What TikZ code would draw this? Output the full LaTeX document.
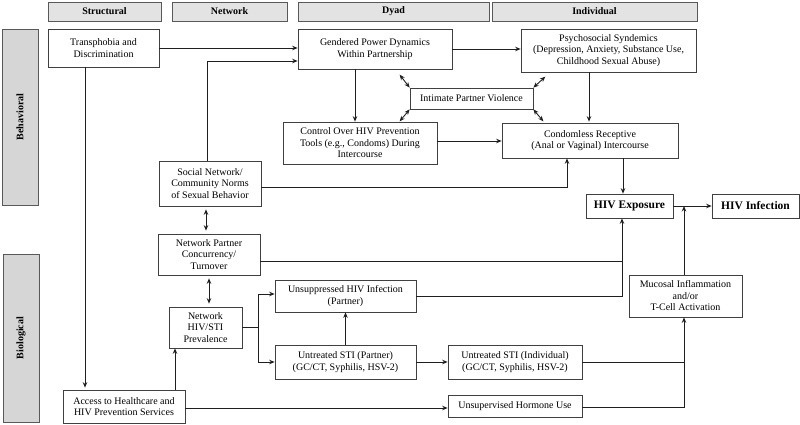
\documentclass[tikz,border=0pt]{standalone}
\usepackage{fontspec}
\setmainfont{Liberation Serif}
\usetikzlibrary{arrows.meta,calc}
\begin{document}
\begin{tikzpicture}[x=1pt,y=-1pt,
  every node/.style={inner sep=0pt, align=center},
  box/.style={draw=black!75, line width=0.7pt, fill=white, font=\fontsize{10}{11.5}\selectfont},
  bbox/.style={box, font=\bfseries\fontsize{11.5}{13}\selectfont},
  hdr/.style={draw=black!65, line width=0.6pt, fill=black!11, font=\bfseries\fontsize{10}{12}\selectfont, minimum height=19pt},
  side/.style={draw=black!65, line width=0.6pt, fill=black!16, font=\bfseries\fontsize{10}{12}\selectfont, rotate=90, minimum height=36pt},
  arr/.style={draw=black!88, line width=0.9pt, -{Stealth[length=5.5pt,width=4.5pt]}},
  darr/.style={draw=black!88, line width=0.9pt, {Stealth[length=5.5pt,width=4.5pt]}-{Stealth[length=5.5pt,width=4.5pt]}},
  ln/.style={draw=black!88, line width=0.9pt}
]
\useasboundingbox (0,0) rectangle (800,424);

% headers
\node[hdr, minimum width=113pt] (hS) at (104.5,11.5) {Structural};
\node[hdr, minimum width=115pt] (hN) at (229.5,11.5) {Network};
\node[hdr, minimum width=191pt] (hD) at (393.5,11.5) {Dyad};
\node[hdr, minimum width=205pt] (hI) at (594.5,11.5) {Individual};
% side labels
\node[side, minimum width=176pt] (sB) at (20,117) {Behavioral};
\node[side, minimum width=168pt] (sBio) at (21,338) {Biological};

% boxes
\node[box, minimum width=111pt, minimum height=38pt] (trans) at (103.5,48) {Transphobia and\\Discrimination};
\node[box, minimum width=154pt, minimum height=40pt] (gend) at (375,49) {Gendered Power Dynamics\\Within Partnership};
\node[box, minimum width=175pt, minimum height=43pt] (psy) at (608.5,50.5) {Psychosocial Syndemics\\(Depression, Anxiety, Substance Use,\\Childhood Sexual Abuse)};
\node[box, minimum width=123pt, minimum height=21pt] (ipv) at (471.5,98.5) {Intimate Partner Violence};
\node[box, minimum width=154pt, minimum height=42pt] (ctrl) at (360,143) {Control Over HIV Prevention\\Tools (e.g., Condoms) During\\Intercourse};
\node[box, minimum width=176pt, minimum height=35pt] (cond) at (590,140.5) {Condomless Receptive\\(Anal or Vaginal) Intercourse};
\node[box, minimum width=102pt, minimum height=45pt] (social) at (210,183.5) {Social Network/\\Community Norms\\of Sexual Behavior};
\node[bbox, minimum width=87pt, minimum height=24pt] (exp) at (629.5,206) {HIV Exposure};
\node[bbox, minimum width=87pt, minimum height=24pt] (inf) at (755.5,206) {HIV Infection};
\node[box, minimum width=102pt, minimum height=41pt] (npc) at (209,254.5) {Network Partner\\Concurrency/\\Turnover};
\node[box, minimum width=73pt, minimum height=41pt] (nhiv) at (205.5,327.5) {Network\\HIV/STI\\Prevalence};
\node[box, minimum width=141pt, minimum height=32pt] (unsup) at (345.5,296) {Unsuppressed HIV Infection\\(Partner)};
\node[box, minimum width=141pt, minimum height=34pt] (stiP) at (345.5,362) {Untreated STI (Partner)\\(GC/CT, Syphilis, HSV-2)};
\node[box, minimum width=134pt, minimum height=34pt] (stiI) at (515,362) {Untreated STI (Individual)\\(GC/CT, Syphilis, HSV-2)};
\node[box, minimum width=134pt, minimum height=22pt] (horm) at (515,406) {Unsupervised Hormone Use};
\node[box, minimum width=113pt, minimum height=42pt] (muc) at (685.5,296) {Mucosal Inflammation\\and/or\\T-Cell Activation};
\node[box, minimum width=122pt, minimum height=33pt] (acc) at (124,406.5) {Access to Healthcare and\\HIV Prevention Services};

% guide coordinates
\coordinate (x85) at (85,0);
\coordinate (x175) at (175,0);
\coordinate (x207) at (207,0);
\coordinate (x206) at (206,0);
\coordinate (x209) at (209,0);
\coordinate (x258) at (258,0);
\coordinate (x355) at (355,0);
\coordinate (x567) at (567,0);
\coordinate (x589) at (589,0);
\coordinate (x622) at (622,0);
\coordinate (x623) at (623,0);
\coordinate (x684) at (684,0);
\coordinate (socE) at ([yshift=-3.5pt]social.east);
\coordinate (npcE) at ([yshift=-6.5pt]npc.east);

% connectors
\draw[arr] (trans.east) -- (trans.east -| gend.west);
\draw[arr] (social.north -| x207) |- ([yshift=-12pt]gend.west);
\draw[arr] (gend.east) -- (gend.east -| psy.west);
\draw[arr] (gend.south -| x355) -- (ctrl.north -| x355);
\draw[darr] (ipv.north west) -- ([shift={(-10pt,13pt)}]ipv.north west);
\draw[darr] (ipv.south west) -- ([shift={(-10pt,-12pt)}]ipv.south west);
\draw[darr] (ipv.north east) -- ([shift={(12pt,11pt)}]ipv.north east);
\draw[darr] (ipv.south east) -- ([shift={(10pt,-12pt)}]ipv.south east);
\draw[arr] ([yshift=2pt]ctrl.east) -- ([yshift=2pt]ctrl.east -| cond.west);
\draw[arr] (psy.south -| x589) -- ([yshift=1pt]cond.north -| x589);
\draw[arr] (cond.south -| x623) -- (exp.north -| x623);
\draw[arr] (socE) -| (cond.south -| x567);
\draw[darr, shorten <=3pt, shorten >=3pt] (social.south -| x206) -- (npc.north -| x206);
\draw[arr] (npcE) -| (exp.south -| x622);
\draw[ln] (unsup.east) -| (npcE -| x622);
\draw[darr, shorten <=3pt, shorten >=3pt] (npc.south -| x209) -- (nhiv.north -| x209);
\draw[arr] (nhiv.east) -- (nhiv.east -| x258) |- ([yshift=2pt]unsup.west);
\draw[arr] (nhiv.east -| x258) |- (stiP.west);
\draw[arr] (stiP.north) -- (unsup.south);
\draw[arr] (stiP.east) -- (stiI.west);
\draw[ln] (stiI.east) -- (stiI.east -| x684);
\draw[arr] ([yshift=-1pt]horm.east) -| (muc.south -| x684);
\draw[arr] (exp.east) -- (inf.west);
\draw[arr] (muc.north -| x684) -- (exp.east -| x684);
\draw[arr] (trans.south -| x85) -- ([yshift=2pt]acc.north -| x85);
\draw[arr] (acc.north -| x175) -- (nhiv.south -| x175);
\draw[arr] ([yshift=-1.5pt]acc.east) -- ([yshift=-1.5pt]acc.east -| horm.west);
\end{tikzpicture}
\end{document}
